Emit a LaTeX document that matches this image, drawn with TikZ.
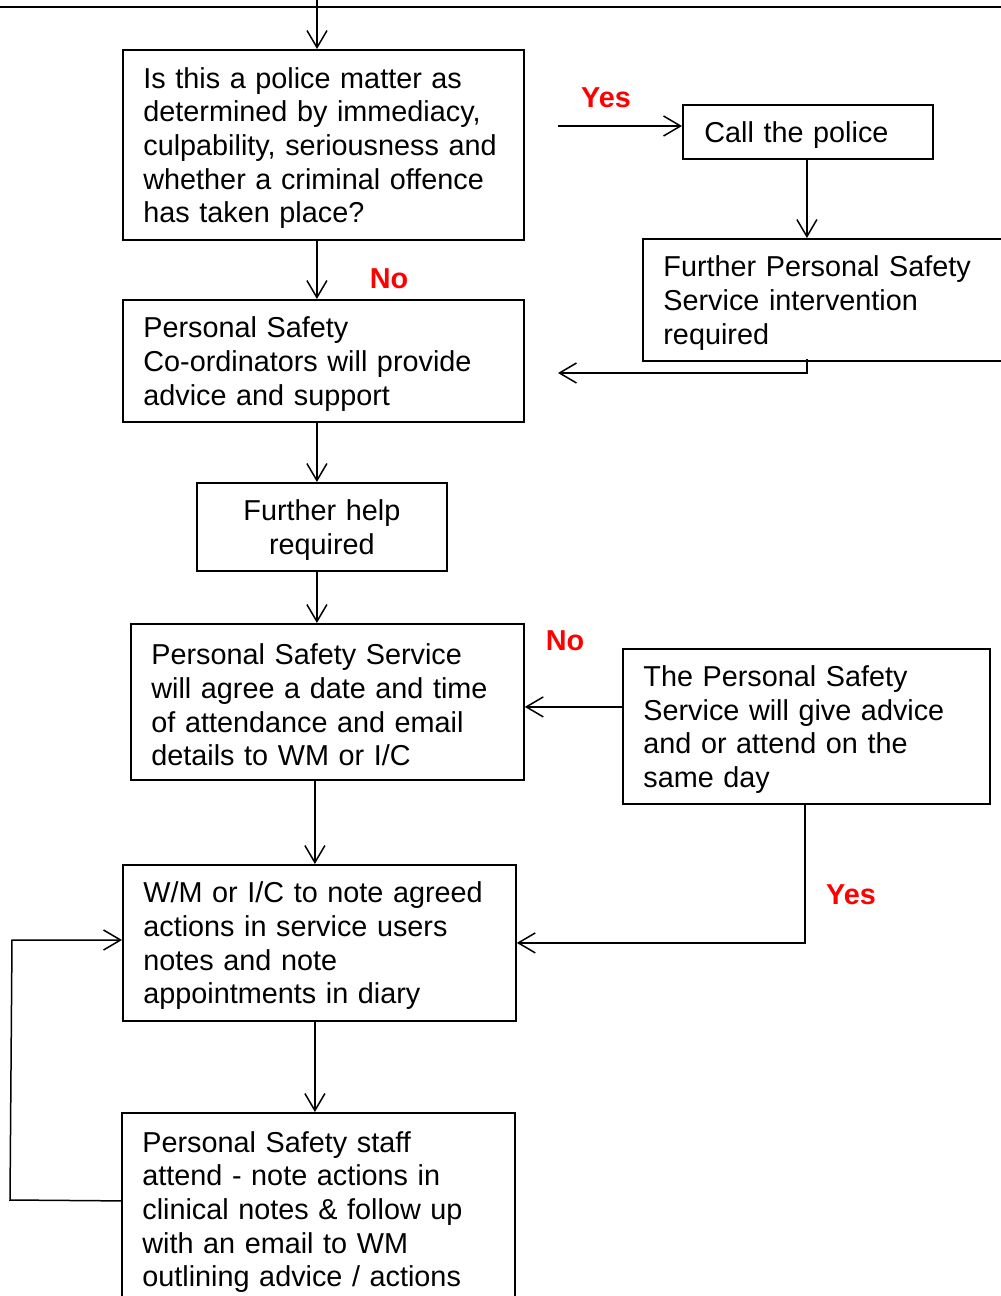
\documentclass[tikz,border=0pt]{standalone}
\usepackage{fontspec}
\setmainfont{Liberation Sans}
\usetikzlibrary{arrows.meta}
\begin{document}
\begin{tikzpicture}[x=1pt,y=-1pt,
  fbox/.style={draw, line width=1.8pt, anchor=north west, inner xsep=20.5pt, inner ysep=0pt,
    align=left, font=\fontsize{28.8}{33.7}\selectfont,
    execute at begin node={\rule{0pt}{27pt}}},
  arr/.style={line width=1.5pt, -{Straight Barb[length=17pt,width=20pt,line width=1.5pt]}},
  lbl/.style={text=red, font=\fontsize{28.8}{33.7}\selectfont\bfseries}]
\useasboundingbox (0,0) rectangle (1001,1296);

% nodes
\node[fbox, text width=360pt, minimum height=190pt] (Q) at (122,49)
  {Is this a police matter as\\determined by immediacy,\\culpability, seriousness and\\whether a criminal offence\\has taken place?};
\node[fbox, inner xsep=21.5pt, text width=207pt, minimum height=54pt] (Call) at (682,104)
  {Call the police};
\node[fbox, text width=379pt, minimum height=122pt] (FPS) at (642,238)
  {Further Personal Safety\\Service intervention\\required};
\node[fbox, text width=360pt, minimum height=122pt] (PSC) at (122,299)
  {Personal Safety\\Co-ordinators will provide\\advice and support};
\node[fbox, align=center, text width=209pt, minimum height=88pt] (FH) at (196,482)
  {Further help\\required};
\node[fbox, text width=352pt, minimum height=156pt] (PSA) at (130,623)
  {Personal Safety Service\\will agree a date and time\\of attendance and email\\details to WM or I/C};
\node[fbox, text width=326pt, minimum height=155pt] (GA) at (622,648)
  {The Personal Safety\\Service will give advice\\and or attend on the\\same day};
\node[fbox, text width=352pt, minimum height=156pt] (WM) at (122,864)
  {W/M or I/C to note agreed\\actions in service users\\notes and note\\appointments in diary};
\node[fbox, text width=352pt, minimum height=192pt] (ST) at (121,1112)
  {Personal Safety staff\\attend - note actions in\\clinical notes \& follow up\\with an email to WM\\outlining advice / actions};

% labels
\node[lbl] (yes1) at (606,98) {Yes};
\node[lbl] (no1) at (389,279) {No};
\node[lbl] (no2) at (565,641) {No};
\node[lbl] (yes2) at (851,895) {Yes};

% coordinates
\coordinate (tl) at (0,7);
\coordinate (tr) at (1001,7);
\coordinate (tin) at (317,0);
\coordinate (ys) at (558,126);
\coordinate (ret) at (558,373);
\coordinate (lb) at (10,1200);
\coordinate (lt) at (12,940);
\coordinate (gaw) at ([yshift=19.5pt]GA.west);

% connectors
\draw[line width=2.6pt] (tl) -- (tr);
\draw[arr] (tin) -- (tin |- Q.north);
\draw[arr] ([xshift=-6.5pt]Q.south) -- ([xshift=-6.5pt]PSC.north);
\draw[arr] (ys) -- (Call.west |- ys);
\draw[arr] ([xshift=-1pt]Call.south) -- ([xshift=-1pt]Call.south |- FPS.north);
\draw[arr] ([xshift=-1pt,yshift=3pt]Call.south |- FPS.south) |- (ret);
\draw[arr] ([xshift=-6.5pt]PSC.south) -- ([xshift=-6.5pt]PSC.south |- FH.north);
\draw[arr] ([xshift=-5pt]FH.south) -- ([xshift=-5pt]FH.south |- PSA.north);
\draw[arr] (gaw) -- (PSA.east |- gaw);
\draw[arr] ([xshift=-12.5pt]PSA.south) -- ([xshift=-12.5pt]PSA.south |- WM.north);
\draw[arr] ([xshift=-1.5pt]GA.south) |- (WM.east);
\draw[arr] ([xshift=-4.5pt]WM.south) -- ([xshift=-4.5pt]WM.south |- ST.north);
\draw[arr] ([yshift=8pt]ST.west) -- (lb) -- (lt) -- (WM.west |- lt);
\end{tikzpicture}
\end{document}
